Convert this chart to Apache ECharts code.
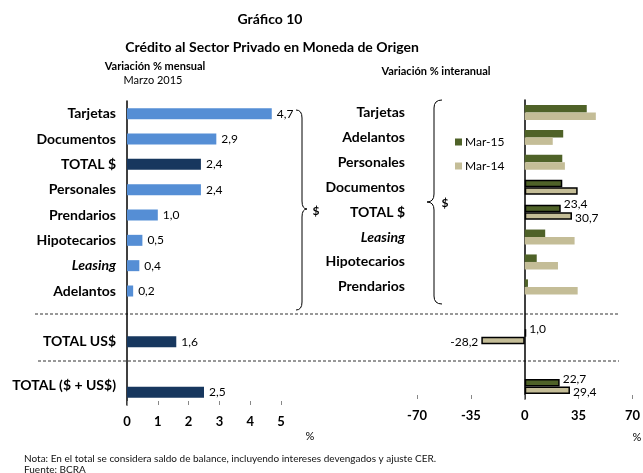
<!DOCTYPE html>
<html>
<head>
<meta charset="utf-8">
<script src="https://cdn.jsdelivr.net/npm/echarts@6/dist/echarts.min.js"></script>
<style>
  html, body { margin: 0; padding: 0; background: #fff; }
  #main { width: 643px; height: 473px; }
</style>
</head>
<body>
<div id="main"></div>
<script>
// panel izquierdo: variación % mensual, marzo 2015
const leftCategories = ["Tarjetas", "Documentos", "TOTAL $", "Personales", "Prendarios", "Hipotecarios", "Leasing", "Adelantos", "", "TOTAL US$", " ", "TOTAL ($ + US$)"];
const leftValues = [4.7, 2.9, 2.4, 2.4, 1.0, 0.5, 0.4, 0.2, "-", 1.6, "-", 2.5];
const leftTicks = [0, 1, 2, 3, 4, 5];

// panel derecho: variación % interanual
const rightCategories = ["Tarjetas", "Adelantos", "Personales", "Documentos", "TOTAL $", "Leasing", "Hipotecarios", "Prendarios", "", "TOTAL US$", " ", "TOTAL ($ + US$)"];
const mar15 = [40.3, 25.0, 24.4, 24.4, 23.4, 13.3, 7.8, 2.1, "-", 1.0, "-", 22.7];
const mar14 = [46.2, 18.2, 26.1, 34.4, 30.7, 32.4, 21.6, 34.4, "-", -28.2, "-", 29.4];
const rightTicks = [-70, -35, 0, 35, 70];
const seriesNames = ["Mar-15", "Mar-14"];

const FONT = "Lato, 'Noto Sans', sans-serif";
const fmt = v => Number(v).toFixed(1).replace(".", ",");

// totales en azul oscuro / con borde
const totals = ["TOTAL $", "TOTAL US$", "TOTAL ($ + US$)"];
const boxed = ["Documentos", "TOTAL $", "TOTAL US$", "TOTAL ($ + US$)"];
const labelled = ["TOTAL $", "TOTAL US$", "TOTAL ($ + US$)"];

const catLabel = (v) => {
  if (v === "Leasing") return "{it|Leasing}";
  if (v === "TOTAL ($ + US$)") return "{up|" + v + "}";
  return "{b|" + v + "}";
};
const richCat = {
  b: { fontWeight: "bold", fontSize: 14, fontFamily: FONT, color: "#000" },
  it: { fontWeight: "bold", fontStyle: "italic", fontSize: 14, fontFamily: FONT, color: "#000" },
  up: { fontWeight: "bold", fontSize: 14, fontFamily: FONT, color: "#000", padding: [0, 0, 14, 0] }
};

function rightData(values, isNew) {
  return values.map((v, i) => {
    const cat = rightCategories[i];
    const item = { value: v };
    if (boxed.includes(cat)) item.itemStyle = { borderColor: "#000", borderWidth: 1.5 };
    if (labelled.includes(cat)) {
      item.label = {
        show: true,
        position: v < 0 ? "left" : "right",
        distance: 3,
        offset: isNew ? [0, -4] : [0, 2],
        formatter: p => fmt(p.value),
        fontSize: 12,
        fontFamily: FONT,
        color: "#000"
      };
    }
    return item;
  });
}

// llave "}" o "{" hecha con curvas
function brace(x0, xm, xt, y0, ym, y1) {
  const st = { fill: "none", stroke: "#000", lineWidth: 1 };
  const d = 8;
  const q = (a, b, c, e, f, g) => ({ type: "bezierCurve", shape: { x1: a, y1: b, cpx1: c, cpy1: e, x2: f, y2: g }, style: st });
  return [
    q(x0, y0, xm, y0, xm, y0 + d),
    { type: "line", shape: { x1: xm, y1: y0 + d, x2: xm, y2: ym - d }, style: st },
    q(xm, ym - d, xm, ym, xt, ym),
    q(xt, ym, xm, ym, xm, ym + d),
    { type: "line", shape: { x1: xm, y1: ym + d, x2: xm, y2: y1 - d }, style: st },
    q(xm, y1 - d, xm, y1, x0, y1)
  ];
}

const axisText = { fontWeight: "bold", fontSize: 13, fontFamily: FONT, color: "#000", margin: 10 };

const option = {
  animation: false,
  backgroundColor: "#fff",
  grid: [
    { left: 127, top: 101, width: 154, height: 304, containLabel: false },
    { left: 417, top: 100, width: 220, height: 299, containLabel: false }
  ],
  legend: {
    data: seriesNames,
    orient: "vertical",
    left: 455,
    top: 136,
    padding: 0,
    itemWidth: 7,
    itemHeight: 7,
    itemGap: 12,
    icon: "rect",
    textStyle: { fontSize: 12, fontFamily: FONT, color: "#000", padding: [0, 0, 0, -2] }
  },
  xAxis: [
    {
      gridIndex: 0, type: "value", min: leftTicks[0], max: leftTicks[leftTicks.length - 1], interval: 1,
      axisLine: { lineStyle: { color: "#000", width: 1.5 } },
      axisTick: { show: true, inside: true, length: 4, lineStyle: { color: "#888" } },
      axisLabel: axisText,
      splitLine: { show: false }
    },
    {
      gridIndex: 1, type: "value", min: rightTicks[0], max: rightTicks[rightTicks.length - 1], interval: 35,
      axisLine: { onZero: false, lineStyle: { color: "#000", width: 1.5 } },
      axisTick: { show: true, inside: true, length: 4, lineStyle: { color: "#888" } },
      axisLabel: axisText,
      splitLine: { show: false }
    }
  ],
  yAxis: [
    {
      gridIndex: 0, type: "category", inverse: true, data: leftCategories,
      axisLine: { lineStyle: { color: "#000", width: 1.5 } },
      axisTick: { show: false },
      axisLabel: { margin: 11, formatter: catLabel, rich: richCat }
    },
    {
      gridIndex: 1, type: "category", inverse: true, data: rightCategories,
      axisLine: { onZero: true, lineStyle: { color: "#000", width: 1.5 } },
      axisTick: { show: false },
      axisLabel: { margin: 12, formatter: (v, i) => (i < 8 ? catLabel(v) : ""), rich: richCat }
    }
  ],
  series: [
    {
      type: "bar", xAxisIndex: 0, yAxisIndex: 0, barWidth: 11,
      data: leftValues.map((v, i) => ({
        value: v,
        itemStyle: { color: totals.includes(leftCategories[i]) ? "#17375E" : "#558ED5" }
      })),
      label: {
        show: true, position: "right", distance: 5,
        formatter: p => fmt(p.value),
        fontSize: 12, fontFamily: FONT, color: "#000"
      }
    },
    {
      name: seriesNames[0], type: "bar", xAxisIndex: 1, yAxisIndex: 1,
      barWidth: 7.5, barGap: "0%",
      itemStyle: { color: "#4F6228" },
      data: rightData(mar15, true)
    },
    {
      name: seriesNames[1], type: "bar", xAxisIndex: 1, yAxisIndex: 1,
      barWidth: 7.5, barGap: "0%",
      itemStyle: { color: "#C4BD97" },
      data: rightData(mar14, false)
    }
  ],
  graphic: [
    { type: "text", style: { text: "Gráfico 10", x: 270, y: 19, textAlign: "center", textVerticalAlign: "middle", font: "bold 14px " + FONT, fill: "#000" } },
    { type: "text", style: { text: "Crédito al Sector Privado en Moneda de Origen", x: 272, y: 47, textAlign: "center", textVerticalAlign: "middle", font: "bold 14px " + FONT, fill: "#000" } },
    { type: "text", style: { text: "Variación % mensual", x: 155, y: 66, textAlign: "center", textVerticalAlign: "middle", font: "bold 11px " + FONT, fill: "#000" } },
    { type: "text", style: { text: "Marzo 2015", x: 153, y: 80, textAlign: "center", textVerticalAlign: "middle", font: "11px " + FONT, fill: "#000" } },
    { type: "text", style: { text: "Variación % interanual", x: 436, y: 71, textAlign: "center", textVerticalAlign: "middle", font: "bold 11px " + FONT, fill: "#000" } },
    ...brace(296, 302, 307, 110, 209, 310),
    ...brace(442, 434, 427, 100, 202, 304),
    { type: "text", style: { text: "$", x: 316, y: 211, textAlign: "center", textVerticalAlign: "middle", font: "bold 12px " + FONT, fill: "#000" } },
    { type: "text", style: { text: "$", x: 445, y: 203, textAlign: "center", textVerticalAlign: "middle", font: "bold 12px " + FONT, fill: "#000" } },
    // separadores
    { type: "line", shape: { x1: 35, y1: 314, x2: 619, y2: 314 }, style: { stroke: "#333", lineWidth: 1, lineDash: [3, 2] } },
    { type: "line", shape: { x1: 38, y1: 361, x2: 619, y2: 361 }, style: { stroke: "#333", lineWidth: 1, lineDash: [3, 2] } },
    { type: "text", style: { text: "%", x: 310, y: 436, textAlign: "center", textVerticalAlign: "middle", font: "11px " + FONT, fill: "#000" } },
    { type: "text", style: { text: "%", x: 637, y: 437, textAlign: "center", textVerticalAlign: "middle", font: "11px " + FONT, fill: "#000" } },
    { type: "text", style: { text: "Nota: En el total se considera saldo de balance, incluyendo intereses devengados y ajuste CER.", x: 24, y: 459, textVerticalAlign: "middle", font: "10px " + FONT, fill: "#111" } },
    { type: "text", style: { text: "Fuente: BCRA", x: 24, y: 470, textVerticalAlign: "middle", font: "10px " + FONT, fill: "#111" } }
  ]
};

const myChart = echarts.init(document.getElementById("main"), null, { renderer: "canvas" });
myChart.setOption(option);
window.addEventListener("resize", () => {
  myChart.resize();
});
</script>
</body>
</html>
